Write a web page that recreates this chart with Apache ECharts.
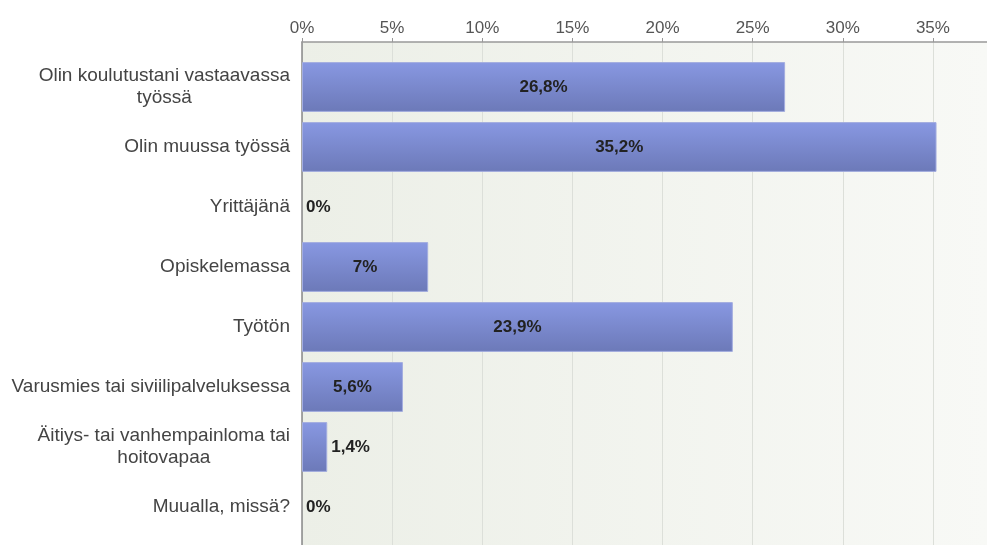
<!DOCTYPE html>
<html><head><meta charset="utf-8">
<script src="https://cdn.jsdelivr.net/npm/echarts@6/dist/echarts.min.js"></script>
<style>html,body{margin:0;padding:0;background:#fff}#c{width:987px;height:545px}</style>
</head><body><div id="c"></div>
<script>
var categories = [
  "Olin koulutustani vastaavassa\ntyössä",
  "Olin muussa työssä",
  "Yrittäjänä",
  "Opiskelemassa",
  "Työtön",
  "Varusmies tai siviilipalveluksessa",
  "Äitiys- tai vanhempainloma tai\nhoitovapaa",
  "Muualla, missä?"
];
var values = [26.8, 35.2, 0, 7, 23.9, 5.6, 1.4, 0];
var tickLabels = ["0%", "5%", "10%", "15%", "20%", "25%", "30%", "35%"];

var chart = echarts.init(document.getElementById('c'));
var barData = values.map(function (v) {
  return {
    value: v,
    itemStyle: v === 0 ? { borderWidth: 0 } : undefined,
    label: { position: v < 3 ? 'right' : 'inside', distance: 4 }
  };
});
var FONT = 'Liberation Sans, Arial, sans-serif';
chart.setOption({
  animation: false,
  backgroundColor: '#fff',
  grid: [
    { left: 302, right: 0, top: 42, bottom: 0, show: true, borderWidth: 0,
      backgroundColor: new echarts.graphic.LinearGradient(0, 0, 1, 0, [
        { offset: 0, color: '#ecefe7' }, { offset: 1, color: '#f8f9f6' }]) },
    { left: 302, right: 0, top: 57, bottom: 8 }
  ],
  xAxis: [
    { gridIndex: 0, type: 'value', position: 'top', min: 0, max: 38, interval: 5,
      axisLine: { show: true, onZero: false, lineStyle: { color: '#999', width: 1.5 } },
      axisTick: { show: true, length: 4, lineStyle: { color: '#999' } },
      splitLine: { show: true, lineStyle: { color: '#dcdfd9' } },
      axisLabel: { showMaxLabel: false, margin: 5, color: '#555', fontSize: 17,
        fontFamily: FONT,
        formatter: function (v) { return tickLabels[v / 5]; } } },
    { gridIndex: 1, type: 'value', min: 0, max: 38, show: false }
  ],
  yAxis: [
    { gridIndex: 0, type: 'value', min: 0, max: 1,
      axisLine: { show: true, onZero: false, lineStyle: { color: '#888', width: 1.5 } },
      axisTick: { show: false }, axisLabel: { show: false }, splitLine: { show: false } },
    { gridIndex: 1, type: 'category', inverse: true, data: categories,
      axisLine: { show: false }, axisTick: { show: false },
      axisLabel: { margin: 12, color: '#444', fontSize: 19,
        fontFamily: FONT, lineHeight: 22,
        formatter: function (v) {
          return v.split('\n').map(function (s) { return '{a|' + s + '}'; }).join('\n');
        },
        rich: { a: { align: 'center', color: '#444', fontSize: 19, lineHeight: 22,
          fontFamily: FONT } } } }
  ],
  series: [{
    type: 'bar', xAxisIndex: 1, yAxisIndex: 1, data: barData,
    barCategoryGap: '17%',
    itemStyle: {
      color: new echarts.graphic.LinearGradient(0, 0, 0, 1, [
        { offset: 0, color: '#8898e2' }, { offset: 1, color: '#6c79b8' }]),
      borderColor: '#a3addf', borderWidth: 1
    },
    label: { show: true, color: '#222', fontSize: 17, fontWeight: 'bold',
      fontFamily: FONT,
      formatter: function (p) { return String(p.value).replace('.', ',') + '%'; } }
  }]
});
</script></body></html>
